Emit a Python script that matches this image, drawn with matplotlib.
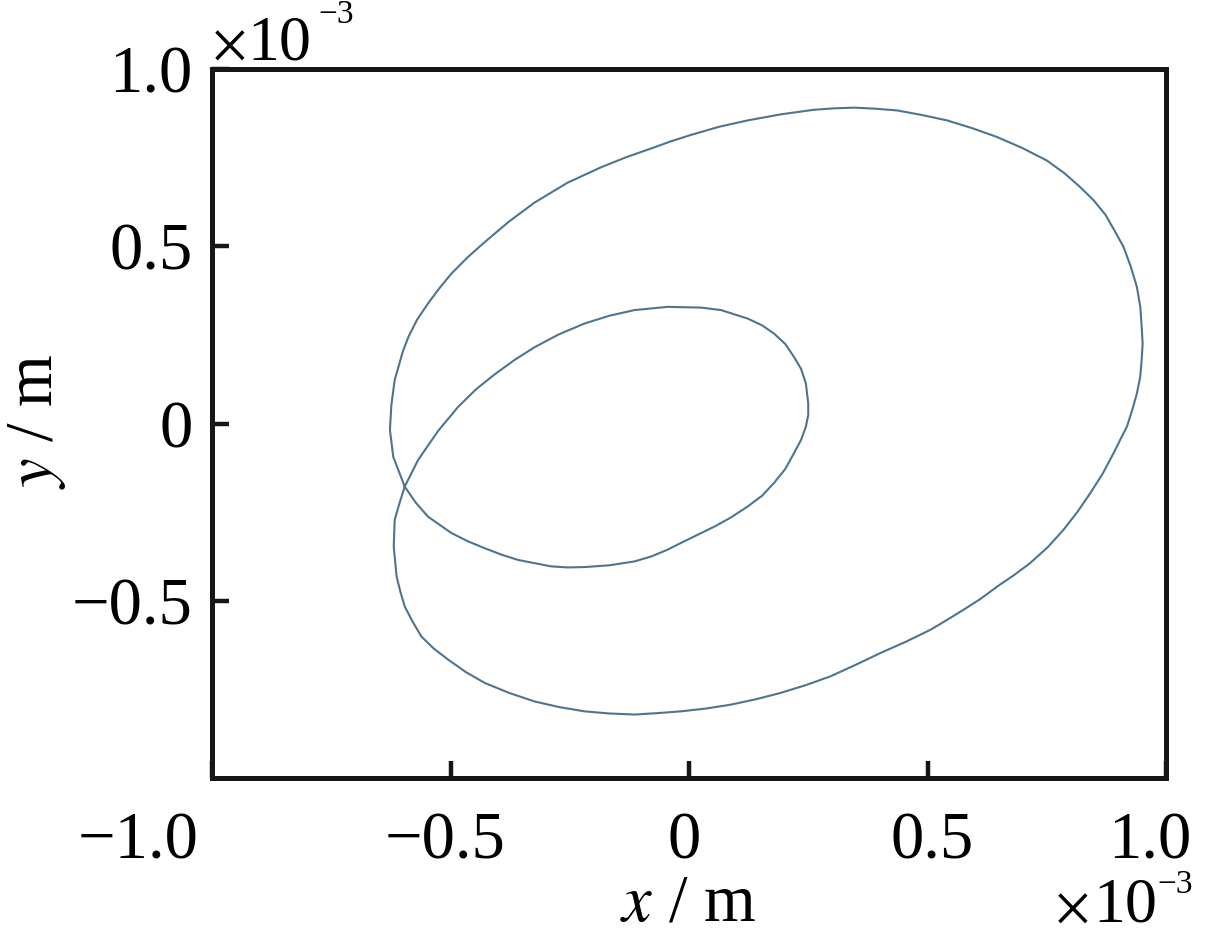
import matplotlib
matplotlib.use("Agg")
import matplotlib.pyplot as plt
from matplotlib.transforms import ScaledTranslation

# orbit, units of 1e-3 m.
# inner loop: from the self-crossing, over the top, round and back
inner_x = [-0.596, -0.568, -0.526, -0.484, -0.446, -0.407, -0.366, -0.324, -0.272,
           -0.219, -0.167, -0.114, -0.045, 0.025, 0.067, 0.123, 0.153, 0.178,
           0.202, 0.220, 0.235, 0.245, 0.250, 0.250, 0.245, 0.235, 0.220, 0.202,
           0.178, 0.153, 0.123, 0.088, 0.053, -0.017, -0.045, -0.079, -0.114,
           -0.167, -0.219, -0.255, -0.289, -0.358, -0.393, -0.428, -0.464,
           -0.498, -0.547, -0.573]
inner_y = [-0.178, -0.103, -0.021, 0.047, 0.097, 0.139, 0.179, 0.215, 0.252,
           0.282, 0.304, 0.320, 0.329, 0.327, 0.320, 0.296, 0.277, 0.254,
           0.224, 0.188, 0.154, 0.113, 0.057, 0.024, -0.009, -0.046, -0.084,
           -0.128, -0.168, -0.204, -0.234, -0.265, -0.291, -0.337, -0.356,
           -0.375, -0.389, -0.400, -0.405, -0.406, -0.403, -0.385, -0.370,
           -0.352, -0.332, -0.309, -0.263, -0.223]

# outer loop: from the crossing, up the left side, clockwise back to it
outer_x = [-0.596, -0.620, -0.627, -0.624, -0.617, -0.609, -0.600, -0.588, -0.570,
           -0.547, -0.523, -0.498, -0.464, -0.428, -0.378, -0.324, -0.255, -0.184,
           -0.132, -0.079, -0.038, 0.004, 0.063, 0.123, 0.192, 0.262, 0.304,
           0.346, 0.391, 0.437, 0.489, 0.541, 0.594, 0.646, 0.699, 0.750, 0.787,
           0.820, 0.848, 0.873, 0.893, 0.911, 0.926, 0.939, 0.946, 0.949, 0.951,
           0.949, 0.946, 0.939, 0.929, 0.918, 0.904, 0.890, 0.867, 0.841, 0.814,
           0.785, 0.752, 0.715, 0.681, 0.646, 0.612, 0.576, 0.541, 0.506, 0.454,
           0.402, 0.349, 0.297, 0.245, 0.192, 0.140, 0.088, 0.036, -0.017, -0.066,
           -0.114, -0.167, -0.219, -0.272, -0.324, -0.377, -0.428, -0.468, -0.505,
           -0.535, -0.561, -0.579, -0.596, -0.605, -0.613, -0.619, -0.617, -0.609,
           -0.596]
outer_y = [-0.178, -0.094, -0.018, 0.052, 0.123, 0.160, 0.203, 0.245, 0.293,
           0.339, 0.382, 0.423, 0.469, 0.512, 0.569, 0.623, 0.679, 0.723,
           0.751, 0.776, 0.796, 0.814, 0.837, 0.855, 0.872, 0.885, 0.889,
           0.891, 0.888, 0.883, 0.870, 0.855, 0.833, 0.808, 0.777, 0.742, 0.706,
           0.667, 0.630, 0.589, 0.542, 0.498, 0.443, 0.385, 0.330, 0.273, 0.226,
           0.179, 0.132, 0.085, 0.037, -0.009, -0.046, -0.084, -0.142, -0.197,
           -0.250, -0.300, -0.349, -0.394, -0.428, -0.460, -0.494, -0.525, -0.554,
           -0.582, -0.616, -0.647, -0.681, -0.713, -0.738, -0.760, -0.778, -0.793,
           -0.804, -0.812, -0.817, -0.821, -0.818, -0.812, -0.800, -0.784, -0.760,
           -0.732, -0.701, -0.666, -0.635, -0.601, -0.560, -0.516, -0.475, -0.432,
           -0.347, -0.272, -0.234, -0.178]

xticks = [-1.0, -0.5, 0.0, 0.5, 1.0]
xtick_labels = ["\u22121.0", "\u22120.5", "0", "0.5", "1.0"]
yticks = [-0.5, 0.0, 0.5, 1.0]
ytick_labels = ["\u22120.5", "0", "0.5", "1.0"]

plt.rcParams["font.family"] = ["Liberation Serif", "DejaVu Serif"]
plt.rcParams["mathtext.fontset"] = "stix"

W, H = 1210, 934
fig = plt.figure(figsize=(W / 100, H / 100), dpi=100)
ax = fig.add_axes([212 / W, 1 - 778 / H, (1166 - 212) / W, (778 - 69) / H])

ax.plot(inner_x + outer_x, inner_y + outer_y, color="#4e7590", lw=1.5,
        solid_joinstyle="round")

ax.set_xlim(-1.0, 1.0)
ax.set_ylim(-1.0, 1.0)
for s in ax.spines.values():
    s.set_linewidth(3.6)
    s.set_color("#161616")

ax.set_xticks(xticks)
ax.set_xticklabels(xtick_labels)
ax.set_yticks(yticks)
ax.set_yticklabels(ytick_labels)
ax.tick_params(direction="in", length=12, width=3.2, color="#161616",
               labelsize=48, top=False, right=False)
ax.tick_params(axis="x", pad=24)
ax.tick_params(axis="y", pad=14)

# nudge x tick labels to where the original puts them (pixels)
nudge = [-74, -5, -5, 5, -16]
for lab, dx in zip(ax.get_xticklabels(), nudge):
    lab.set_transform(lab.get_transform() + ScaledTranslation(dx / 100, 0, fig.dpi_scale_trans))

fig.text(688 / W, 1 - 921 / H, r"$x$ / m", fontsize=48, ha="center", va="baseline")
fig.text(37 / W, 1 - 421 / H, r"$y$ / m", fontsize=48, ha="center", va="center",
         rotation=90)

# offset (exponent) labels
fig.text(212 / W, 1 - 59 / H, r"$\times$", fontsize=38, ha="left", va="baseline")
fig.text(247 / W, 1 - 59 / H, "10", fontsize=46, ha="left", va="baseline")
fig.text(318 / W, 1 - 23 / H, "\u22123", fontsize=24, ha="left", va="baseline")
fig.text(1055 / W, 1 - 922 / H, r"$\times$", fontsize=38, ha="left", va="baseline")
fig.text(1093 / W, 1 - 922 / H, "10", fontsize=46, ha="left", va="baseline")
fig.text(1157 / W, 1 - 893 / H, "\u22123", fontsize=24, ha="left", va="baseline")

fig.savefig("out.png", dpi=100)
